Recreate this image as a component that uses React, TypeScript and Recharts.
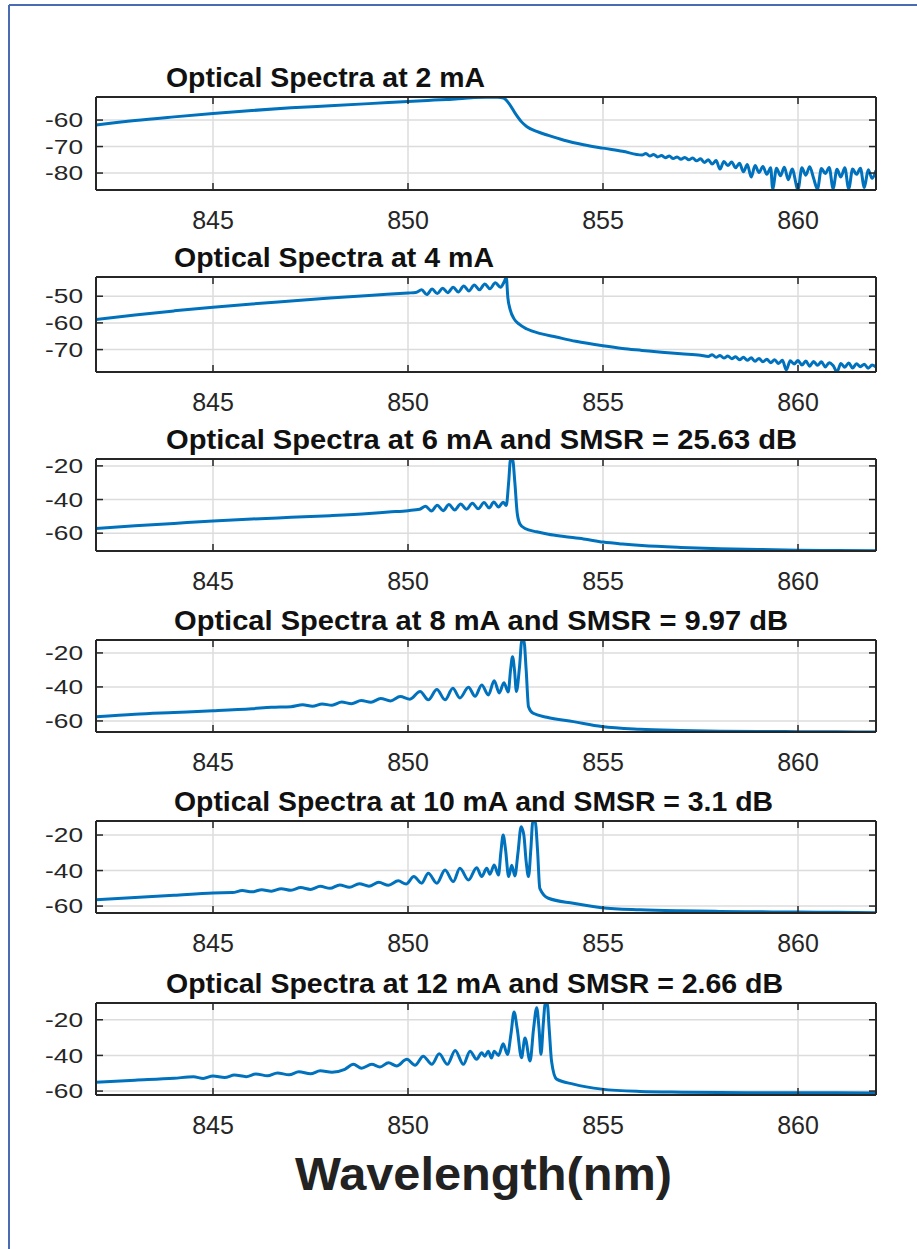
import React from 'react';
import { LineChart, Line, XAxis, YAxis, CartesianGrid } from 'recharts';

// Wavelength axis (nm), shared by all panels
const xDomain = [842, 862];
const xTicks = [845, 850, 855, 860];

// Panel titles
const titles = [
  'Optical Spectra at 2 mA',
  'Optical Spectra at 4 mA',
  'Optical Spectra at 6 mA and SMSR = 25.63 dB',
  'Optical Spectra at 8 mA and SMSR = 9.97 dB',
  'Optical Spectra at 10 mA and SMSR = 3.1 dB',
  'Optical Spectra at 12 mA and SMSR = 2.66 dB',
];

// y ticks and tight y ranges (dB) per panel
const yTicks = [
  [-80, -70, -60],
  [-70, -60, -50],
  [-60, -40, -20],
  [-60, -40, -20],
  [-60, -40, -20],
  [-60, -40, -20],
];
const yRanges = [
  [-86.4, -51.3],
  [-78.4, -42.8],
  [-70.6, -15.9],
  [-66.5, -12.4],
  [-63.9, -12.1],
  [-62.2, -10.6],
];

// spectra: [wavelength nm, power dB]
const spec2mA = [
  [842, -61.9], [843, -60.2], [844, -58.8], [845, -57.5], [846, -56.4], [847, -55.4], [848, -54.6],
  [849, -53.8], [850, -53.0], [850.5, -52.6], [851, -52.2], [851.4, -51.9], [851.7, -51.5], [852, -51.4],
  [852.3, -51.4], [852.45, -51.7], [852.6, -54.0], [852.75, -57.5], [852.9, -60.5], [853.05, -62.5],
  [853.3, -64.3], [853.6, -65.8], [854, -67.6], [854.5, -69.3], [855, -70.6], [855.5, -71.8],
  [856, -73.2], [856.1, -72.6], [856.2, -73.6], [856.3, -73.0], [856.4, -73.9], [856.5, -73.4],
  [856.6, -74.2], [856.7, -73.6], [856.8, -74.5], [856.9, -73.9], [857, -74.8], [857.1, -74.1],
  [857.2, -75.0], [857.3, -74.3], [857.4, -75.4], [857.5, -74.6], [857.6, -76.0], [857.7, -75.0],
  [857.8, -76.6], [857.9, -75.3], [858, -78.5], [858.1, -75.6], [858.2, -77.2], [858.3, -75.8],
  [858.4, -78.0], [858.5, -76.3], [858.6, -79.5], [858.7, -76.8], [858.8, -81.5], [858.9, -77.2],
  [859, -79.8], [859.1, -77.5], [859.2, -80.5], [859.3, -78.0], [859.35, -86.0], [859.45, -78.2],
  [859.55, -81.0], [859.65, -77.8], [859.75, -82.5], [859.85, -78.5], [860, -86.2], [860.1, -78.0],
  [860.2, -80.8], [860.3, -77.6], [860.4, -82.0], [860.5, -86.0], [860.6, -78.3], [860.7, -80.2],
  [860.8, -77.9], [860.9, -85.8], [861, -78.6], [861.1, -81.5], [861.2, -78.0], [861.3, -86.0],
  [861.4, -78.5], [861.5, -80.5], [861.6, -78.2], [861.7, -85.5], [861.8, -78.8], [861.9, -82.0],
  [862, -79.0],
];

const spec4mA = [
  [842, -58.7], [843, -57.0], [844, -55.5], [845, -54.1], [846, -52.9], [847, -51.8], [848, -50.7],
  [849, -49.7], [850, -48.8], [850.2, -48.6], [850.35, -47.6], [850.48, -49.4], [850.62, -47.3],
  [850.75, -49.0], [850.89, -47.0], [851.02, -48.7], [851.16, -46.6], [851.29, -48.4], [851.43, -46.2],
  [851.56, -48.0], [851.7, -45.8], [851.83, -47.6], [851.97, -45.4], [852.1, -47.2], [852.24, -45.0],
  [852.37, -46.6], [852.47, -44.5], [852.52, -42.9], [852.56, -50.5], [852.62, -55.0], [852.72, -58.5],
  [852.85, -60.5], [853.05, -62.3], [853.4, -64.0], [853.8, -65.3], [854.3, -66.9], [855, -68.6],
  [855.5, -69.6], [856, -70.3], [856.5, -71.0], [857, -71.6], [857.5, -72.1], [857.7, -72.6],
  [857.8, -71.9], [857.9, -72.9], [858, -72.2], [858.1, -73.2], [858.2, -72.4], [858.3, -73.4],
  [858.4, -72.7], [858.5, -73.8], [858.6, -72.9], [858.7, -74.0], [858.8, -73.1], [858.9, -74.4],
  [859, -73.3], [859.1, -74.6], [859.2, -73.6], [859.3, -74.9], [859.4, -73.8], [859.5, -75.2],
  [859.6, -74.0], [859.7, -77.6], [859.8, -74.2], [859.9, -75.4], [860, -74.1], [860.1, -75.8],
  [860.2, -74.3], [860.3, -76.2], [860.4, -74.5], [860.5, -75.9], [860.6, -74.6], [860.7, -76.5],
  [860.8, -74.9], [860.9, -76.0], [861, -78.3], [861.1, -75.2], [861.2, -76.6], [861.3, -75.0],
  [861.4, -76.9], [861.5, -75.3], [861.6, -76.4], [861.7, -75.5], [861.8, -77.0], [861.9, -75.8],
  [862, -76.5],
];

const spec6mA = [
  [842, -57.2], [843, -55.6], [844, -54.2], [845, -52.8], [846, -51.6], [847, -50.6], [848, -49.6],
  [849, -48.3], [849.5, -47.4], [850, -46.6], [850.3, -45.8], [850.45, -44.0], [850.6, -46.8],
  [850.75, -43.4], [850.9, -46.6], [851.05, -43.0], [851.2, -46.2], [851.35, -42.6], [851.5, -45.8],
  [851.65, -42.2], [851.8, -45.5], [851.95, -41.8], [852.08, -45.0], [852.2, -41.5], [852.32, -44.5],
  [852.44, -41.6], [852.52, -43.5], [852.58, -30.0], [852.63, -16.0], [852.68, -16.0], [852.74, -30.0],
  [852.8, -48.0], [852.87, -54.5], [853, -57.2], [853.3, -59.2], [853.6, -60.7], [854, -62.0],
  [854.5, -63.4], [855, -65.3], [855.5, -66.5], [856, -67.4], [857, -68.5], [858, -69.2], [859, -69.7],
  [860, -70.1], [861, -70.3], [862, -70.5],
];

const spec8mA = [
  [842, -57.5], [843, -56.0], [844, -55.0], [845, -54.0], [846, -52.8], [846.5, -52.0], [847, -51.6],
  [847.3, -50.5], [847.55, -51.4], [847.8, -50.0], [848.05, -50.8], [848.3, -48.9], [848.55, -49.9],
  [848.8, -48.0], [849.05, -49.0], [849.3, -46.8], [849.55, -48.2], [849.8, -45.6], [850.05, -47.2],
  [850.31, -42.7], [850.52, -47.6], [850.74, -41.5], [850.95, -47.6], [851.15, -40.8], [851.33, -46.5],
  [851.55, -40.2], [851.72, -45.5], [851.89, -38.8], [852.06, -44.7], [852.21, -36.3], [852.34, -43.5],
  [852.46, -37.5], [852.57, -43.0], [852.63, -30.0], [852.68, -22.2], [852.73, -30.0], [852.78, -42.7],
  [852.86, -28.0], [852.92, -12.5], [852.97, -12.5], [853.03, -30.0], [853.09, -51.6], [853.21, -55.5],
  [853.56, -57.8], [854.24, -60.4], [854.97, -63.3], [855.95, -64.9], [857, -65.6], [858, -66.0],
  [859, -66.2], [860, -66.3], [861, -66.4], [862, -66.5],
];

const spec10mA = [
  [842, -56.5], [843, -55.2], [844, -53.9], [845, -52.6], [845.5, -52.4], [845.75, -51.3], [846, -52.0],
  [846.25, -50.8], [846.5, -51.6], [846.75, -50.2], [847, -51.1], [847.25, -49.6], [847.5, -50.6],
  [847.75, -48.9], [848, -50.0], [848.25, -48.1], [848.5, -49.4], [848.75, -47.4], [849, -48.8],
  [849.25, -46.6], [849.5, -48.3], [849.75, -45.8], [849.95, -47.6], [850.15, -43.4], [850.35, -47.1],
  [850.52, -41.5], [850.74, -47.1], [850.95, -39.7], [851.16, -46.2], [851.33, -38.7], [851.55, -45.3],
  [851.76, -38.4], [851.89, -43.4], [852.02, -38.7], [852.1, -42.1], [852.21, -36.9], [852.32, -42.5],
  [852.38, -30.0], [852.44, -20.0], [852.5, -28.0], [852.58, -43.4], [852.66, -37.0], [852.74, -43.0],
  [852.82, -30.0], [852.9, -15.3], [852.97, -20.0], [853.03, -35.0], [853.09, -43.4], [853.15, -28.0],
  [853.2, -12.3], [853.26, -12.3], [853.32, -28.0], [853.38, -50.0], [853.6, -55.6], [854.24, -58.4],
  [854.97, -60.9], [855.95, -62.1], [857, -62.7], [858, -63.0], [859, -63.2], [860, -63.4],
  [861, -63.5], [862, -63.7],
];

const spec12mA = [
  [842, -55.0], [843, -53.9], [844, -52.8], [844.5, -52.0], [844.75, -52.9], [845, -51.5], [845.3, -52.4],
  [845.55, -51.0], [845.85, -51.9], [846.1, -50.4], [846.4, -51.4], [846.65, -49.8], [846.95, -50.9],
  [847.2, -49.2], [847.5, -50.3], [847.75, -48.6], [848.05, -49.4], [848.38, -47.8], [848.6, -45.0],
  [848.81, -47.2], [849.07, -45.0], [849.28, -46.5], [849.5, -44.1], [849.71, -45.9], [849.97, -42.2],
  [850.18, -45.5], [850.39, -40.4], [850.61, -45.0], [850.8, -39.1], [851.01, -45.0], [851.21, -37.2],
  [851.42, -45.0], [851.59, -37.6], [851.76, -42.2], [851.89, -38.5], [851.97, -40.4], [852.06, -37.6],
  [852.14, -41.5], [852.21, -37.6], [852.32, -40.0], [852.44, -33.5], [852.55, -39.5], [852.64, -28.0],
  [852.72, -15.7], [852.8, -25.0], [852.91, -41.3], [853, -30.2], [853.13, -43.1], [853.22, -25.0],
  [853.3, -13.2], [853.36, -25.0], [853.41, -39.4], [853.47, -22.0], [853.52, -10.8], [853.57, -10.8],
  [853.62, -25.0], [853.68, -43.1], [853.81, -53.3], [854.24, -56.1], [854.97, -58.9], [855.95, -60.2],
  [857, -60.6], [858, -60.8], [859, -60.9], [860, -61.0], [861, -61.0], [862, -61.1],
];

const spectra = [spec2mA, spec4mA, spec6mA, spec8mA, spec10mA, spec12mA];

// layout: plot box top/bottom (px) and title placement
const boxTops = [97, 277, 459, 640, 821, 1003];
const boxBottoms = [190, 372, 551, 732, 913, 1095];
const titleLefts = [166, 174, 166, 174, 174, 166];
const titleWidths = [319, 320, 631, 614, 599, 617];

const FONT = "'Liberation Sans', Arial, Helvetica, sans-serif";
const INK = '#262626';
const BLUE = '#0072BD';

const XTick = (props: any) => (
  <text x={props.x} y={props.y} dy="0.36em" textAnchor="middle" fontSize={25} fontFamily={FONT} fill={INK}>
    {props.payload.value}
  </text>
);

const YTick = (props: any) => (
  <text
    x={props.x}
    y={props.y}
    dy="0.36em"
    textAnchor="end"
    fontSize={20}
    fontFamily={FONT}
    fill={INK}
    textLength={38}
    lengthAdjust="spacingAndGlyphs"
  >
    {props.payload.value}
  </text>
);

const NoTick = () => null;

function Panel({ idx }: { idx: number }) {
  const top = boxTops[idx];
  const plotH = boxBottoms[idx] - top;
  const data = spectra[idx].map(([wl, db]) => ({ wl, db }));
  const domain = yRanges[idx];
  const ticks = yTicks[idx];
  const box = { stroke: INK, strokeWidth: 2 };
  const inner = { stroke: INK, strokeWidth: 1.5 };

  return (
    <div style={{ position: 'absolute', left: 0, top: top - 10 }}>
      <LineChart width={917} height={plotH + 66} data={data} margin={{ top: 10, right: 41, bottom: 0, left: 0 }}>
        <CartesianGrid stroke="#dcdcdc" strokeWidth={1.5} />
        <XAxis
          dataKey="wl"
          type="number"
          domain={xDomain}
          ticks={xTicks}
          interval={0}
          allowDataOverflow
          height={56}
          tickLine={false}
          tickSize={0}
          tickMargin={30}
          axisLine={box}
          tick={XTick}
        />
        <XAxis
          xAxisId="top"
          orientation="top"
          mirror
          dataKey="wl"
          type="number"
          domain={xDomain}
          ticks={xTicks}
          interval={0}
          allowDataOverflow
          tickSize={7}
          tickLine={inner}
          axisLine={box}
          tick={NoTick}
        />
        <XAxis
          xAxisId="bin"
          orientation="bottom"
          mirror
          dataKey="wl"
          type="number"
          domain={xDomain}
          ticks={xTicks}
          interval={0}
          allowDataOverflow
          tickSize={7}
          tickLine={inner}
          axisLine={false}
          tick={NoTick}
        />
        <YAxis
          type="number"
          domain={domain}
          ticks={ticks}
          interval={0}
          allowDataOverflow
          width={96}
          tickLine={false}
          tickSize={0}
          tickMargin={13}
          axisLine={box}
          tick={YTick}
        />
        <YAxis
          yAxisId="lin"
          orientation="left"
          mirror
          type="number"
          domain={domain}
          ticks={ticks}
          interval={0}
          allowDataOverflow
          tickSize={7}
          tickLine={inner}
          axisLine={false}
          tick={NoTick}
        />
        <YAxis
          yAxisId="right"
          orientation="right"
          mirror
          type="number"
          domain={domain}
          ticks={ticks}
          interval={0}
          allowDataOverflow
          tickSize={7}
          tickLine={inner}
          axisLine={box}
          tick={NoTick}
        />
        <Line
          type="monotoneX"
          dataKey="db"
          stroke={BLUE}
          strokeWidth={3}
          dot={false}
          activeDot={false}
          isAnimationActive={false}
        />
      </LineChart>
    </div>
  );
}

export default function App() {
  return (
    <div style={{ position: 'absolute', left: 0, top: 0, width: 917, height: 1249, background: '#fff', overflow: 'hidden' }}>
      {titles.map((_, i) => (
        <Panel key={i} idx={i} />
      ))}
      <svg width={917} height={1249} style={{ position: 'absolute', left: 0, top: 0, pointerEvents: 'none' }}>
        <line x1={9} y1={5} x2={917} y2={5} stroke="#4a6cb3" strokeWidth={2} />
        <line x1={9} y1={5} x2={9} y2={1249} stroke="#4a6cb3" strokeWidth={2} />
        {titles.map((t, i) => (
          <text
            key={t}
            x={titleLefts[i]}
            y={boxTops[i] - 10}
            fontSize={28}
            fontWeight="bold"
            fontFamily={FONT}
            fill="#111"
            textLength={titleWidths[i]}
            lengthAdjust="spacingAndGlyphs"
          >
            {t}
          </text>
        ))}
        <text
          x={295}
          y={1190}
          fontSize={47}
          fontWeight="bold"
          fontFamily={FONT}
          fill="#222"
          textLength={377}
          lengthAdjust="spacingAndGlyphs"
        >
          Wavelength(nm)
        </text>
      </svg>
    </div>
  );
}
